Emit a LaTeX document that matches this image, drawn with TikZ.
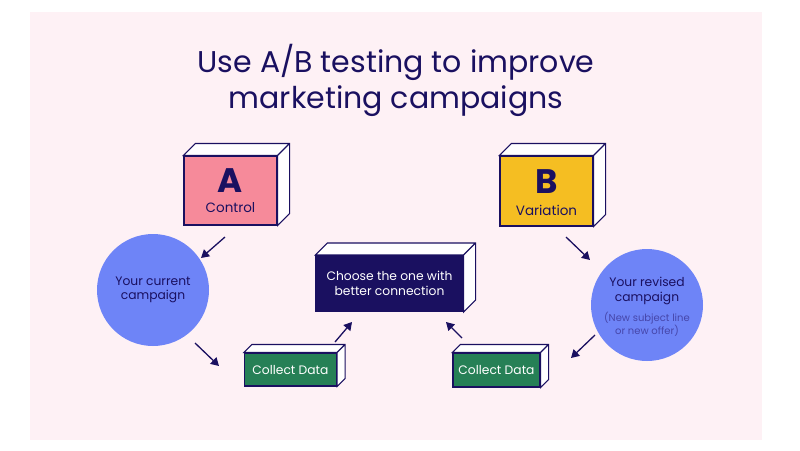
\documentclass[tikz,border=0pt]{standalone}
\usepackage{fontspec}
\setmainfont{Poppins}
\usetikzlibrary{arrows.meta}
\definecolor{navy}{RGB}{26,16,96}
\definecolor{bgpink}{RGB}{254,241,245}
\definecolor{boxpink}{RGB}{246,138,154}
\definecolor{boxgold}{RGB}{245,190,34}
\definecolor{boxgreen}{RGB}{38,128,86}
\definecolor{circblue}{RGB}{110,132,247}
\definecolor{subnavy}{RGB}{70,70,170}
\tikzset{every picture/.style={line width=0.75pt}}
\tikzset{
  face/.style={draw=navy, line width=1.1pt, inner sep=0pt},
  camp/.style={circle, fill=circblue, minimum size=112pt, inner sep=0pt, align=center, text=navy, font=\fontsize{12.3}{14.5}\selectfont},
  flow/.style={-{Triangle[length=8pt,width=9pt]}, draw=navy, line width=1.3pt}
}
\newcommand{\boxside}[2]{%
  \draw [draw=navy, line width=1.1pt, fill=white] (#1.north west) -- ++(#2,-#2) -- ([shift={(#2,-#2)}]#1.north east) -- ([shift={(#2,-#2)}]#1.south east) -- (#1.south east) -- (#1.north east) -- cycle (#1.north east) -- ++(#2,-#2) ;}

\begin{document}
\begin{tikzpicture}[x=1pt,y=1pt,yscale=-1,xscale=1]
\useasboundingbox (0,0) rectangle (800,450);
%background
\fill [bgpink] (30,12) rectangle (762,440);

% Title
\node (title) at (396,80) [text=navy, align=center, font=\fontsize{30}{36}\selectfont] {Use A/B testing to improve\\marketing campaigns};

% Boxes
\node (ctrl) at (230.5,190.5) [face, fill=boxpink, minimum width=93pt, minimum height=69pt] {};
\boxside{ctrl}{12}
\node (ctrlA) at (230.5,181) [text=navy, font=\fontsize{34}{36}\selectfont\bfseries] {A};
\node (ctrlT) at (230.5,208) [text=navy, font=\fontsize{13.5}{15}\selectfont] {Control};

\node (vari) at (546.5,191) [face, fill=boxgold, minimum width=93pt, minimum height=70pt] {};
\boxside{vari}{12}
\node (variB) at (546.5,182) [text=navy, font=\fontsize{34}{36}\selectfont\bfseries] {B};
\node (variT) at (546.5,210) [text=navy, font=\fontsize{13.5}{15}\selectfont] {Variation};

\node (choose) at (389.5,283.5) [face, fill=navy, minimum width=147pt, minimum height=56pt, text=white, align=center, font=\fontsize{12.3}{14.5}\selectfont] {Choose the one with\\better connection};
\boxside{choose}{12}

\node (dataL) at (290.5,369.5) [face, fill=boxgreen, minimum width=92pt, minimum height=33pt, text=white, font=\fontsize{12.3}{14.5}\selectfont] {Collect Data};
\boxside{dataL}{8}
\node (dataR) at (496.5,370) [face, fill=boxgreen, minimum width=87pt, minimum height=34pt, text=white, font=\fontsize{12.3}{14.5}\selectfont] {Collect Data};
\boxside{dataR}{8}

% Circles
\node (cur) at (153,290) [camp] {Your current\\campaign};
\node (rev) at (647,305) [camp] {};
\node (revT) at (647,291) [text=navy, align=center, font=\fontsize{12.3}{14.5}\selectfont] {Your revised\\campaign};
\node (revS) at (647,324) [text=subnavy, align=center, font=\fontsize{10}{11}\selectfont] {(New subject line\\or new offer)};

% Arrows
\coordinate (a1) at (225,237); \coordinate (a2) at (201,258);
\coordinate (b1) at (195,343); \coordinate (b2) at (219,366);
\coordinate (c1) at (335,342); \coordinate (c2) at (352,322);
\coordinate (d1) at (462,338); \coordinate (d2) at (446,322);
\coordinate (e1) at (566,237); \coordinate (e2) at (590,260);
\coordinate (f1) at (595,335); \coordinate (f2) at (571,358);
\draw [flow] (a1) -- (a2);
\draw [flow] (b1) -- (b2);
\draw [flow] (c1) -- (c2);
\draw [flow] (d1) -- (d2);
\draw [flow] (e1) -- (e2);
\draw [flow] (f1) -- (f2);

\end{tikzpicture}
\end{document}
